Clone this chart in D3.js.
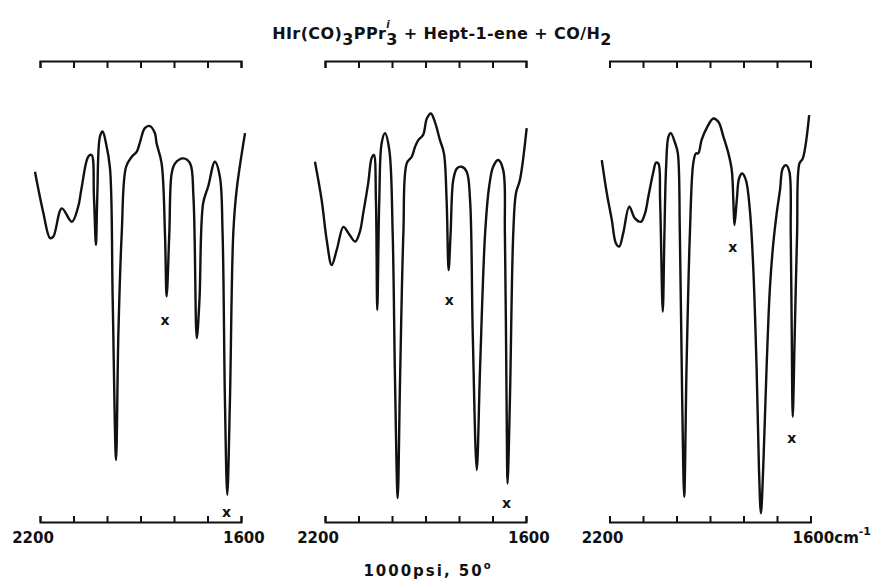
<!DOCTYPE html>
<html>
<head>
<meta charset="utf-8">
<script src="https://cdn.jsdelivr.net/npm/d3@7"></script>
<style>
  body { margin: 0; background: #fff; }
  text { font-family: "DejaVu Sans", sans-serif; fill: #111; }
</style>
</head>
<body>
<div id="chart"></div>
<script>
const width = 885, height = 581;

// wavenumber ticks (cm-1), same for all three panels
const wavenumberTicks = [2200, 2100, 2000, 1900, 1800, 1700, 1600];

// [wavenumber, transmittance %]
const spectrumA = [
  [2215, 82.9], [2190, 73.1], [2170, 67.1], [2160, 67.5], [2135, 74.2], [2105, 71.0],
  [2086, 74.6], [2076, 79.0], [2056, 86.5], [2046, 86.9], [2039, 77.0], [2033, 65.5],
  [2029, 77.0], [2021, 91.3], [2013, 92.5], [2003, 89.7], [1991, 83.7], [1983, 52.4],
  [1973, 14.3], [1966, 44.5], [1956, 68.3], [1943, 84.1], [1926, 86.5], [1911, 87.7],
  [1901, 90.1], [1887, 93.3], [1872, 93.8], [1857, 92.1], [1852, 89.7], [1837, 84.9],
  [1827, 68.3], [1822, 53.2], [1814, 68.3], [1807, 82.5], [1797, 84.9], [1772, 86.1],
  [1752, 84.9], [1742, 77.0], [1732, 43.3], [1724, 52.4], [1713, 75.4], [1698, 79.4],
  [1678, 85.3], [1663, 81.7], [1655, 68.3], [1648, 28.6], [1641, 6.0], [1633, 28.6],
  [1623, 68.3], [1613, 78.6], [1588, 92.1]
];

const spectrumB = [
  [2230, 85.3], [2210, 76.2], [2195, 66.7], [2180, 60.7], [2165, 64.3], [2145, 69.8],
  [2130, 68.3], [2110, 66.3], [2096, 68.6], [2086, 73.0], [2071, 80.2], [2061, 86.1],
  [2054, 86.9], [2048, 76.2], [2044, 50.0], [2038, 76.2], [2031, 89.7], [2021, 92.1],
  [2008, 88.1], [1998, 68.3], [1991, 33.3], [1983, 5.2], [1976, 33.3], [1966, 68.3],
  [1956, 84.9], [1941, 86.5], [1931, 88.9], [1921, 90.5], [1907, 91.7], [1896, 95.6],
  [1884, 96.8], [1872, 94.8], [1857, 90.5], [1845, 87.3], [1837, 76.2], [1831, 59.5],
  [1825, 68.3], [1817, 81.0], [1806, 83.7], [1792, 84.1], [1777, 82.9], [1767, 76.2],
  [1759, 44.5], [1747, 11.9], [1737, 36.5], [1722, 68.3], [1710, 79.4], [1698, 84.1],
  [1683, 85.7], [1668, 83.3], [1663, 68.3], [1658, 28.6], [1655, 8.7], [1648, 28.6],
  [1638, 68.3], [1630, 77.8], [1618, 81.0], [1598, 93.3]
];

const spectrumC = [
  [2223, 85.7], [2208, 77.8], [2193, 71.4], [2181, 65.9], [2171, 65.1], [2159, 68.3],
  [2141, 74.6], [2124, 71.8], [2106, 71.0], [2094, 73.0], [2084, 77.0], [2069, 82.9],
  [2061, 85.1], [2054, 84.9], [2049, 76.2], [2041, 49.6], [2036, 68.3], [2031, 84.1],
  [2024, 91.3], [2017, 92.1], [2004, 89.7], [1996, 87.3], [1990, 68.3], [1983, 28.6],
  [1977, 5.5], [1970, 36.5], [1960, 68.3], [1950, 84.9], [1942, 87.3], [1935, 87.3],
  [1925, 90.5], [1910, 93.3], [1890, 95.6], [1875, 94.8], [1860, 91.3], [1845, 87.3],
  [1835, 83.3], [1830, 75.4], [1827, 70.2], [1820, 76.2], [1813, 81.4], [1804, 82.5],
  [1793, 81.0], [1781, 73.8], [1771, 60.3], [1761, 36.5], [1754, 12.7], [1748, 1.6],
  [1741, 12.7], [1731, 36.5], [1721, 55.5], [1711, 65.9], [1701, 73.0], [1691, 78.6],
  [1683, 83.7], [1673, 84.5], [1663, 82.9], [1659, 68.3], [1656, 44.5], [1653, 24.6],
  [1647, 44.5], [1640, 68.3], [1633, 84.9], [1623, 86.1], [1604, 96.4]
];

// "x" marks under bands
const marksA = [[1827, 47.6], [1643, 2.0]];
const marksB = [[1829, 52.4], [1658, 4.0]];
const marksC = [[1832, 65.1], [1656, 19.5]];

const spectra = [spectrumA, spectrumB, spectrumC];
const marks = [marksA, marksB, marksC];

// layout
const panelLeft = [40, 325, 609.5];
const panelWidth = 201;
const axisTopY = 61, axisBottomY = 522;

const yScale = d3.scaleLinear().domain([0, 100]).range([520, 100]);

const svg = d3.select("#chart")
  .append("svg")
  .attr("width", width)
  .attr("height", height);

const line = d3.line()
  .x(d => d[0])
  .y(d => d[1])
  .curve(d3.curveCatmullRom.alpha(0.5));

spectra.forEach((spectrum, i) => {
  const xScale = d3.scaleLinear()
    .domain([2200, 1600])
    .range([panelLeft[i], panelLeft[i] + panelWidth]);

  // top axis, ticks hang down
  const topAxis = svg.append("g")
    .attr("transform", `translate(0, ${axisTopY})`)
    .call(d3.axisTop(xScale)
      .tickValues(wavenumberTicks)
      .tickSizeInner(-7)
      .tickSizeOuter(-7)
      .tickFormat(""));

  // bottom axis, ticks point up
  const bottomAxis = svg.append("g")
    .attr("transform", `translate(0, ${axisBottomY})`)
    .call(d3.axisBottom(xScale)
      .tickValues(wavenumberTicks)
      .tickSizeInner(-6)
      .tickSizeOuter(-6)
      .tickFormat(""));

  [topAxis, bottomAxis].forEach(g => {
    g.select(".domain").attr("stroke", "#111").attr("stroke-width", 2);
    g.selectAll(".tick line").attr("stroke", "#111").attr("stroke-width", 2);
  });

  // end labels
  svg.append("text")
    .attr("x", xScale(2200) - 7)
    .attr("y", 543)
    .attr("text-anchor", "middle")
    .style("font-size", "15px")
    .style("font-weight", "bold")
    .text("2200");

  const endLabel = svg.append("text")
    .attr("x", xScale(1600) - 18)
    .attr("y", 543)
    .style("font-size", "15px")
    .style("font-weight", "bold")
    .text("1600");
  if (i === 2) {
    endLabel.append("tspan").text("cm");
    endLabel.append("tspan")
      .attr("dy", -8)
      .style("font-size", "11px")
      .text("-1");
  }

  // trace
  const pts = spectrum.map(d => [xScale(d[0]), yScale(d[1])]);
  svg.append("path")
    .attr("d", line(pts))
    .attr("fill", "none")
    .attr("stroke", "#111")
    .attr("stroke-width", 2.4)
    .attr("stroke-linejoin", "round");

  svg.selectAll(null)
    .data(marks[i])
    .join("text")
    .attr("x", d => xScale(d[0]))
    .attr("y", d => yScale(d[1]))
    .attr("text-anchor", "middle")
    .attr("dominant-baseline", "central")
    .style("font-size", "14px")
    .style("font-weight", "bold")
    .text("x");
});

// title
const title = svg.append("text")
  .attr("x", 442)
  .attr("y", 39)
  .attr("text-anchor", "middle")
  .style("font-size", "16px")
  .style("font-weight", "bold")
  .style("letter-spacing", "0.4px");
title.append("tspan").text("HIr(CO)");
title.append("tspan").attr("dy", 6).text("3");
title.append("tspan").attr("dy", -6).text("PPr");
title.append("tspan").attr("dy", -11).style("font-size", "10px").style("font-style", "italic").text("i");
title.append("tspan").attr("dx", -4).attr("dy", 17).text("3");
title.append("tspan").attr("dy", -6).text(" + Hept-1-ene + CO/H");
title.append("tspan").attr("dy", 6).text("2");

// condition note
const note = svg.append("text")
  .attr("x", 428)
  .attr("y", 576)
  .attr("text-anchor", "middle")
  .style("font-size", "15px")
  .style("font-weight", "bold")
  .style("letter-spacing", "2px")
  .text("1000psi, 50");
note.append("tspan").attr("dy", -7).style("font-size", "10px").text("o");
</script>
</body>
</html>
